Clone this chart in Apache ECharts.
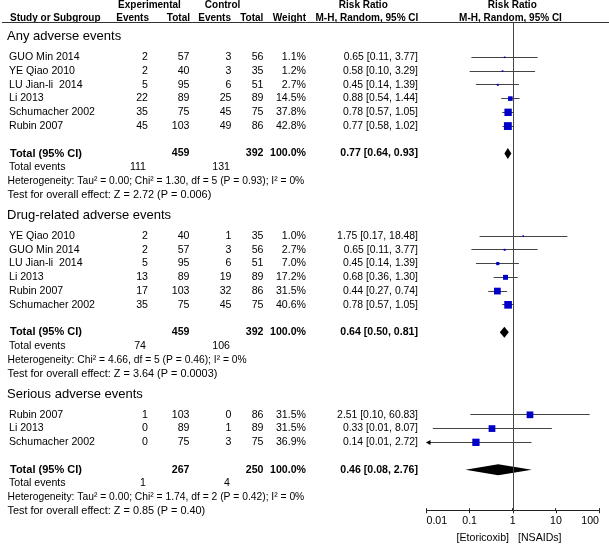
<!DOCTYPE html>
<html><head><meta charset="utf-8">
<script src="https://cdn.jsdelivr.net/npm/echarts@6/dist/echarts.min.js"></script>
<style>html,body{margin:0;padding:0;background:#fff}#c{width:609px;height:545px}</style>
</head><body><div id="c"></div>
<script>
// ---------------- DATA ----------------
const sectionNames = ['Any adverse events', 'Drug-related adverse events', 'Serious adverse events'];

const anyStudies = ['GUO Min 2014', 'YE Qiao 2010', 'LU Jian-li  2014', 'Li 2013', 'Schumacher 2002', 'Rubin 2007'];
const anyExpEvents = [2, 2, 5, 22, 35, 45];
const anyExpTotal = [57, 40, 95, 89, 75, 103];
const anyCtlEvents = [3, 3, 6, 25, 45, 49];
const anyCtlTotal = [56, 35, 51, 89, 75, 86];
const anyWeight = [1.1, 1.2, 2.7, 14.5, 37.8, 42.8];
const anyRR = [0.65, 0.58, 0.45, 0.88, 0.78, 0.77];
const anyLo = [0.11, 0.10, 0.14, 0.54, 0.57, 0.58];
const anyHi = [3.77, 3.29, 1.39, 1.44, 1.05, 1.02];
const anyPooled = [0.77, 0.64, 0.93];
const anyTotals = [459, 392];
const anyEventTotals = [111, 131];
const anyHet = 'Heterogeneity: Tau\u00b2 = 0.00; Chi\u00b2 = 1.30, df = 5 (P = 0.93); I\u00b2 = 0%';
const anyTest = 'Test for overall effect: Z = 2.72 (P = 0.006)';

const drugStudies = ['YE Qiao 2010', 'GUO Min 2014', 'LU Jian-li  2014', 'Li 2013', 'Rubin 2007', 'Schumacher 2002'];
const drugExpEvents = [2, 2, 5, 13, 17, 35];
const drugExpTotal = [40, 57, 95, 89, 103, 75];
const drugCtlEvents = [1, 3, 6, 19, 32, 45];
const drugCtlTotal = [35, 56, 51, 89, 86, 75];
const drugWeight = [1.0, 2.7, 7.0, 17.2, 31.5, 40.6];
const drugRR = [1.75, 0.65, 0.45, 0.68, 0.44, 0.78];
const drugLo = [0.17, 0.11, 0.14, 0.36, 0.27, 0.57];
const drugHi = [18.48, 3.77, 1.39, 1.30, 0.74, 1.05];
const drugPooled = [0.64, 0.50, 0.81];
const drugTotals = [459, 392];
const drugEventTotals = [74, 106];
const drugHet = 'Heterogeneity: Chi\u00b2 = 4.66, df = 5 (P = 0.46); I\u00b2 = 0%';
const drugTest = 'Test for overall effect: Z = 3.64 (P = 0.0003)';

const serStudies = ['Rubin 2007', 'Li 2013', 'Schumacher 2002'];
const serExpEvents = [1, 0, 0];
const serExpTotal = [103, 89, 75];
const serCtlEvents = [0, 1, 3];
const serCtlTotal = [86, 89, 75];
const serWeight = [31.5, 31.5, 36.9];
const serRR = [2.51, 0.33, 0.14];
const serLo = [0.104, 0.014, 0.007];
const serHi = [60.83, 8.07, 2.72];
const serPooled = [0.46, 0.08, 2.76];
const serTotals = [267, 250];
const serEventTotals = [1, 4];
const serHet = 'Heterogeneity: Tau\u00b2 = 0.00; Chi\u00b2 = 1.74, df = 2 (P = 0.42); I\u00b2 = 0%';
const serTest = 'Test for overall effect: Z = 0.85 (P = 0.40)';

const tickLabels = ['0.01', '0.1', '1', '10', '100'];
const favourLeft = '[Etoricoxib]';
const favourRight = '[NSAIDs]';

// ---------------- BUILD ----------------
const sections = [
  {name: sectionNames[0], studies: anyStudies, ee: anyExpEvents, et: anyExpTotal, ce: anyCtlEvents, ct: anyCtlTotal, w: anyWeight, rr: anyRR, lo: anyLo, hi: anyHi, pooled: anyPooled, totals: anyTotals, ev: anyEventTotals, het: anyHet, test: anyTest},
  {name: sectionNames[1], studies: drugStudies, ee: drugExpEvents, et: drugExpTotal, ce: drugCtlEvents, ct: drugCtlTotal, w: drugWeight, rr: drugRR, lo: drugLo, hi: drugHi, pooled: drugPooled, totals: drugTotals, ev: drugEventTotals, het: drugHet, test: drugTest},
  {name: sectionNames[2], studies: serStudies, ee: serExpEvents, et: serExpTotal, ce: serCtlEvents, ct: serCtlTotal, w: serWeight, rr: serRR, lo: serLo, hi: serHi, pooled: serPooled, totals: serTotals, ev: serEventTotals, het: serHet, test: serTest}
];

// layout (pixel geometry of rows / columns, font sizes)
const ROW0 = 36.7, ROWH = 13.75;
const px2r = y => (y - ROW0) / ROWH;
const COL = {heading: 7, name: 9, note: 7.5, ee: 148, et: 189.5, ce: 231.5, ct: 263.5, w: 306, rr: 418, evE: 146, evC: 230};
const FS = {name: 10.6, num: 10.6, rr: 10.4, het: 10.3, test: 10.9, heading: 13, header: 10, total: 11, totalNum: 10.6};
const FONT = '"Liberation Sans", Arial, Helvetica, sans-serif';

const cells = [];
function cell(x, r, text, opt) { cells.push(Object.assign({x: x, r: r, text: String(text), align: 'left', size: FS.num, bold: false}, opt || {})); }
const fmtCI = (a, b, c) => a.toFixed(2) + ' [' + b.toFixed(2) + ', ' + c.toFixed(2) + ']';

// header
const H1 = px2r(5), H2 = px2r(18);
const hb = (align) => ({bold: true, size: FS.header, align: align || 'left'});
cell(149.5, H1, 'Experimental', hb('center'));
cell(222.6, H1, 'Control', hb('center'));
cell(363.3, H1, 'Risk Ratio', hb('center'));
cell(512.3, H1, 'Risk Ratio', hb('center'));
cell(10, H2, 'Study or Subgroup', hb());
cell(149, H2, 'Events', hb('right'));
cell(190, H2, 'Total', hb('right'));
cell(231, H2, 'Events', hb('right'));
cell(263.3, H2, 'Total', hb('right'));
cell(306, H2, 'Weight', hb('right'));
cell(418.3, H2, 'M-H, Random, 95% CI', hb('right'));
cell(510.5, H2, 'M-H, Random, 95% CI', hb('center'));

const whiskers = [], boxes = [], diamonds = [];
let r = 0;
sections.forEach(s => {
  cell(COL.heading, r, s.name, {size: FS.heading});
  r += 1.5;
  s.studies.forEach((name, i) => {
    cell(COL.name, r, name, {size: FS.name});
    cell(COL.ee, r, s.ee[i], {align: 'right'});
    cell(COL.et, r, s.et[i], {align: 'right'});
    cell(COL.ce, r, s.ce[i], {align: 'right'});
    cell(COL.ct, r, s.ct[i], {align: 'right'});
    cell(COL.w, r, s.w[i].toFixed(1) + '%', {align: 'right'});
    cell(COL.rr, r, fmtCI(s.rr[i], s.lo[i], s.hi[i]), {align: 'right', size: FS.rr});
    whiskers.push([s.lo[i], s.hi[i], r]);
    boxes.push([s.rr[i], r, s.w[i]]);
    if (i < s.studies.length - 1) r += 1;
  });
  r += 2;
  cell(COL.name + 1, r, 'Total (95% CI)', {bold: true, size: FS.total});
  cell(COL.et, r, s.totals[0], {align: 'right', bold: true, size: FS.totalNum});
  cell(COL.ct, r, s.totals[1], {align: 'right', bold: true, size: FS.totalNum});
  cell(COL.w, r, '100.0%', {align: 'right', bold: true, size: FS.totalNum});
  cell(COL.rr, r, fmtCI(s.pooled[0], s.pooled[1], s.pooled[2]), {align: 'right', bold: true, size: FS.totalNum});
  diamonds.push([s.pooled[1], s.pooled[0], s.pooled[2], r]);
  r += 1;
  cell(COL.name, r, 'Total events', {size: FS.name});
  cell(COL.evE, r, s.ev[0], {align: 'right'});
  cell(COL.evC, r, s.ev[1], {align: 'right'});
  r += 1;
  cell(COL.note, r, s.het, {size: FS.het});
  r += 1;
  cell(COL.note, r, s.test, {size: FS.test});
  r += 1.5;
});
cell(509, px2r(538), favourLeft, {align: 'right', size: FS.name});
cell(518, px2r(538), favourRight, {align: 'left', size: FS.name});

const rules = [[2, 609, px2r(22.7)]];
const tickValues = tickLabels.map(Number);

// ---------------- CHART ----------------
const chart = echarts.init(document.getElementById('c'), null, {renderer: 'canvas'});
const XMIN = 0.01, XMAX = 100;
const YMAX1 = px2r(510.7);
const crisp = v => Math.round(v - 0.5) + 0.5;

chart.setOption({
  animation: false,
  backgroundColor: '#fff',
  grid: [
    {left: 0, right: 0, top: 0, bottom: 0, outerBoundsMode: 'none', containLabel: false},
    {left: 426.5, right: 10, top: 22.7, bottom: 545 - 510.7, outerBoundsMode: 'none', containLabel: false}
  ],
  xAxis: [
    {gridIndex: 0, type: 'value', min: 0, max: 609, show: false},
    {gridIndex: 1, type: 'log', logBase: 10, min: XMIN, max: XMAX, position: 'bottom',
      axisLine: {show: true, onZero: false, lineStyle: {color: '#222', width: 1}},
      axisTick: {show: true, inside: false, length: 2.5, lineStyle: {color: '#222'}},
      axisLabel: {show: true, margin: 5, color: '#000', fontSize: 10.6, fontFamily: FONT,
        alignMinLabel: 'left', alignMaxLabel: 'right',
        formatter: (v, i) => tickLabels[i] !== undefined ? tickLabels[i] : ''},
      splitLine: {show: false}}
  ],
  yAxis: [
    {gridIndex: 0, type: 'value', inverse: true, min: px2r(0), max: px2r(545), show: false},
    {gridIndex: 1, type: 'value', inverse: true, min: px2r(22.7), max: YMAX1, show: false}
  ],
  series: [
    { // table text
      type: 'custom', xAxisIndex: 0, yAxisIndex: 0, silent: true, clip: false,
      data: cells.map((c, i) => [c.x, c.r, i]),
      encode: {x: 0, y: 1},
      renderItem: (params, api) => {
        const c = cells[api.value(2)];
        const p = api.coord([api.value(0), api.value(1)]);
        return {type: 'text', x: p[0], y: p[1], style: {text: c.text, fill: '#000',
          font: (c.bold ? 'bold ' : '') + c.size + 'px ' + FONT, align: c.align, verticalAlign: 'middle'}};
      }
    },
    { // header rule
      type: 'custom', xAxisIndex: 0, yAxisIndex: 0, silent: true, clip: false,
      data: rules, encode: {x: [0, 1], y: 2},
      renderItem: (params, api) => {
        const a = api.coord([api.value(0), api.value(2)]);
        const b = api.coord([api.value(1), api.value(2)]);
        const y = crisp(a[1]);
        return {type: 'line', shape: {x1: a[0], y1: y, x2: b[0], y2: y}, style: {stroke: '#333', lineWidth: 1}};
      }
    },
    { // upward half of the axis ticks
      type: 'custom', xAxisIndex: 1, yAxisIndex: 1, silent: true, clip: false,
      data: tickValues.map(v => [v, YMAX1]), encode: {x: 0, y: 1},
      renderItem: (params, api) => {
        const p = api.coord([api.value(0), api.value(1)]);
        const x = crisp(p[0]);
        return {type: 'line', shape: {x1: x, y1: p[1], x2: x, y2: p[1] - 2.5}, style: {stroke: '#222', lineWidth: 1}};
      }
    },
    { // CI whiskers
      type: 'custom', xAxisIndex: 1, yAxisIndex: 1, silent: true, clip: false,
      data: whiskers, encode: {x: [0, 1], y: 2},
      renderItem: (params, api) => {
        const lo = api.value(0), hi = api.value(1), rr = api.value(2);
        const a = api.coord([Math.max(lo, XMIN), rr]);
        const b = api.coord([Math.min(hi, XMAX), rr]);
        const y = crisp(a[1]);
        const children = [{type: 'line', shape: {x1: a[0], y1: y, x2: b[0], y2: y}, style: {stroke: '#444', lineWidth: 1}}];
        if (lo < XMIN) children.push({type: 'polygon', shape: {points: [[a[0] - 0.5, y], [a[0] + 4, y - 2.5], [a[0] + 4, y + 2.5]]}, style: {fill: '#000'}});
        if (hi > XMAX) children.push({type: 'polygon', shape: {points: [[b[0] + 0.5, y], [b[0] - 4, y - 2.5], [b[0] - 4, y + 2.5]]}, style: {fill: '#000'}});
        return {type: 'group', children: children};
      }
    },
    { // study boxes
      type: 'scatter', xAxisIndex: 1, yAxisIndex: 1, silent: true,
      data: boxes, symbol: 'rect',
      symbolSize: v => Math.max(1.6, 1.2 * Math.sqrt(v[2])),
      itemStyle: {color: '#0000c8', opacity: 1},
      markLine: {silent: true, symbol: ['none', 'none'], label: {show: false},
        lineStyle: {color: '#444', width: 1, type: 'solid'}, data: [{xAxis: 1}]}
    },
    { // pooled diamonds
      type: 'custom', xAxisIndex: 1, yAxisIndex: 1, silent: true, clip: false,
      data: diamonds, encode: {x: [0, 1, 2], y: 3},
      renderItem: (params, api) => {
        const l = api.coord([api.value(0), api.value(3)]);
        const m = api.coord([api.value(1), api.value(3)]);
        const h = api.coord([api.value(2), api.value(3)]);
        const hh = 5.5;
        return {type: 'polygon', shape: {points: [[l[0], l[1]], [m[0], m[1] - hh], [h[0], h[1]], [m[0], m[1] + hh]]}, style: {fill: '#000'}};
      }
    }
  ]
});
</script>
</body></html>
